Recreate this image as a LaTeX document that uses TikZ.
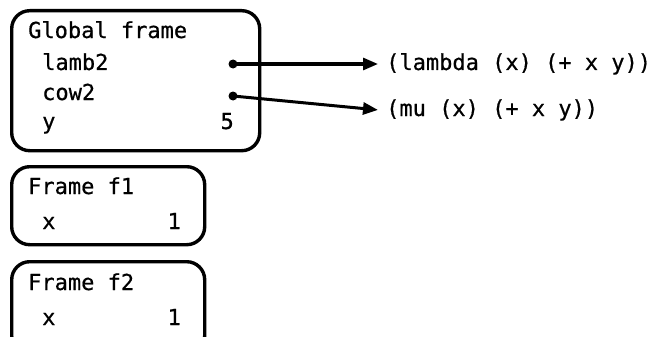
\documentclass[tikz,border=0pt]{standalone}
\usepackage{fontspec}
\setmonofont[FakeBold=0.6]{DejaVu Sans Mono}
\usetikzlibrary{arrows.meta}
\begin{document}
\begin{tikzpicture}[x=1pt,y=-1pt,
  framebox/.style={draw,line width=3.4pt,rounded corners=18pt,anchor=north west,inner sep=0pt},
  txt/.style={font=\ttfamily\fontsize{22}{26}\selectfont,inner sep=0pt,anchor=base west},
  val/.style={font=\ttfamily\fontsize{22}{26}\selectfont,inner sep=0pt,anchor=base east},
  ptr/.style={line width=3pt,-{Triangle[length=15pt,width=12pt]}},
  dotc/.style={fill,circle,inner sep=0pt,minimum size=9pt}]
\useasboundingbox (0,0) rectangle (658,337);
\clip (0,0) rectangle (658,337);
% Global frame
\node[framebox,minimum width=248pt,minimum height=140pt] (gbox) at (10,9) {};
\node[txt] (gtitle) at (28,38) {Global frame};
\node[txt] (lamb) at (42,70) {lamb2};
\node[txt] (cow) at (42,100) {cow2};
\node[txt] (yv) at (42,129) {y};
\node[val] (five) at (234,129) {5};
\node[dotc] (d1) at (233,64) {};
\node[dotc] (d2) at (233,96) {};
% Procedures
\node[txt] (lam) at (386,70) {(lambda (x) (+ x y))};
\node[txt] (mu) at (386,116) {(mu (x) (+ x y))};
\draw[ptr] (d1.center) -- ([xshift=-8pt]lam.west |- d1.center);
\draw[ptr] (d2.center) -- ([xshift=-8pt]mu.west);
% Frame f1
\node[framebox,minimum width=193pt,minimum height=78pt] (f1box) at (10,165) {};
\node[txt] (f1t) at (28,194) {Frame f1};
\node[txt] (f1x) at (42,229) {x};
\node[val] (f1v) at (181,229) {1};
% Frame f2
\node[framebox,minimum width=193pt,minimum height=92pt] (f2box) at (10,260) {};
\node[txt] (f2t) at (28,290) {Frame f2};
\node[txt] (f2x) at (42,325) {x};
\node[val] (f2v) at (181,325) {1};
\end{tikzpicture}
\end{document}
